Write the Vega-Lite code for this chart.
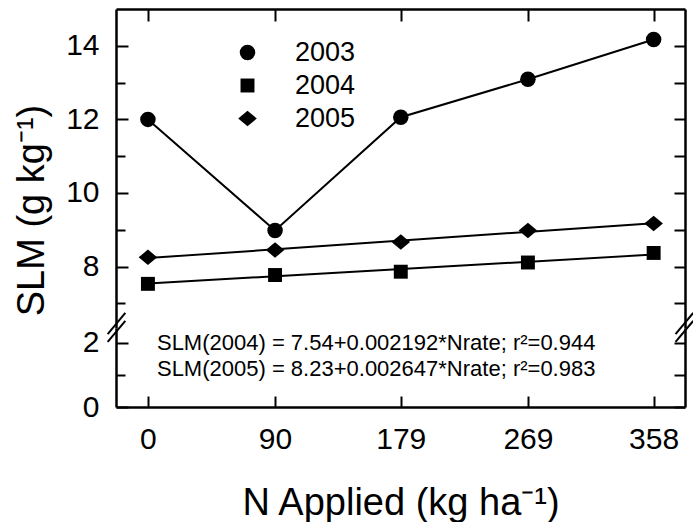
{
  "$schema": "https://vega.github.io/schema/vega-lite/v6.json",
  "padding": {"left": 13, "top": 8, "right": 5, "bottom": 5},
  "background": "white",
  "config": {
    "view": {"stroke": null},
    "font": "Liberation Sans",
    "axis": {"grid": false, "domainColor": "black", "domainWidth": 2.5, "tickColor": "black", "tickWidth": 2, "labelColor": "black", "titleColor": "black", "labelFont": "Liberation Sans", "titleFont": "Liberation Sans", "titleFontWeight": "normal", "labelFontSize": 30, "titleFontSize": 38}
  },
  "datasets": {
    "points": [
      {"nrate": 0, "slm": 12.0, "year": "2003"},
      {"nrate": 90, "slm": 8.98, "year": "2003"},
      {"nrate": 179, "slm": 12.06, "year": "2003"},
      {"nrate": 269, "slm": 13.09, "year": "2003"},
      {"nrate": 358, "slm": 14.17, "year": "2003"},
      {"nrate": 0, "slm": 7.53, "year": "2004"},
      {"nrate": 90, "slm": 7.77, "year": "2004"},
      {"nrate": 179, "slm": 7.86, "year": "2004"},
      {"nrate": 269, "slm": 8.11, "year": "2004"},
      {"nrate": 358, "slm": 8.37, "year": "2004"},
      {"nrate": 0, "slm": 8.25, "year": "2005"},
      {"nrate": 90, "slm": 8.45, "year": "2005"},
      {"nrate": 179, "slm": 8.67, "year": "2005"},
      {"nrate": 269, "slm": 8.98, "year": "2005"},
      {"nrate": 358, "slm": 9.17, "year": "2005"}
    ],
    "fit": [
      {"nrate": 0, "slm": 7.54, "year": "2004"},
      {"nrate": 358, "slm": 8.325, "year": "2004"},
      {"nrate": 0, "slm": 8.23, "year": "2005"},
      {"nrate": 358, "slm": 9.178, "year": "2005"}
    ],
    "equations": [
      {"nrate": 6.4, "slm": 1.97, "label": "SLM(2004) = 7.54+0.002192*Nrate; r²=0.944"},
      {"nrate": 6.4, "slm": 1.17, "label": "SLM(2005) = 8.23+0.002647*Nrate; r²=0.983"}
    ],
    "breaks": [
      {"side": "left", "x1": -28.5, "x2": -16, "y1": 2.26, "y2": 2.92},
      {"side": "left", "x1": -28.5, "x2": -16, "y1": 2.02, "y2": 2.67},
      {"side": "right", "x1": 373.5, "x2": 386, "y1": 2.26, "y2": 2.92},
      {"side": "right", "x1": 373.5, "x2": 386, "y1": 2.02, "y2": 2.67}
    ]
  },
  "vconcat": [
    {
      "width": 569,
      "height": 319,
      "layer": [
        {
          "data": {"name": "points"},
          "transform": [{"filter": "datum.year === '2003'"}],
          "mark": {"type": "line", "color": "black", "strokeWidth": 2},
          "encoding": {
            "x": {"field": "nrate", "type": "quantitative", "scale": {"domain": [-22.6, 380.2], "nice": false, "zero": false},
                  "axis": {"orient": "top", "values": [0, 90, 179, 269, 358], "labels": false, "tickSize": -12, "title": null, "domain": true}},
            "y": {"field": "slm", "type": "quantitative", "scale": {"domain": [6.33, 15.0], "nice": false, "zero": false},
                  "axis": {"orient": "left", "values": [8, 10, 12, 14], "tickSize": -12, "labelPadding": 29, "title": "SLM (g kg⁻¹)", "titleY": 201, "titlePadding": 14}}
          }
        },
        {
          "data": {"name": "fit"},
          "mark": {"type": "line", "color": "black", "strokeWidth": 2},
          "encoding": {
            "x": {"field": "nrate", "type": "quantitative"},
            "y": {"field": "slm", "type": "quantitative",
                  "axis": {"orient": "right", "values": [7, 8, 9, 10, 11, 12, 13, 14], "labels": false, "tickSize": -11, "title": null}},
            "detail": {"field": "year"}
          }
        },
        {
          "data": {"name": "points"},
          "mark": {"type": "point", "filled": true, "color": "black", "opacity": 1, "size": 240},
          "encoding": {
            "x": {"field": "nrate", "type": "quantitative"},
            "y": {"field": "slm", "type": "quantitative",
                  "axis": {"orient": "left", "values": [7, 9, 11, 13], "labels": false, "tickSize": -9, "domain": false, "title": null}},
            "shape": {"field": "year", "type": "nominal",
                      "scale": {"domain": ["2003", "2004", "2005"], "range": ["circle", "M-0.9,-0.9L0.9,-0.9L0.9,0.9L-0.9,0.9Z", "M-1.2,0L0,-1L1.2,0L0,1Z"]},
                      "legend": {"orient": "none", "legendX": 118, "legendY": 30, "title": null, "labelFontSize": 27, "labelFont": "Liberation Sans", "labelColor": "black", "symbolSize": 240, "symbolFillColor": "black", "symbolStrokeColor": "black", "labelOffset": 34, "rowPadding": 5}}
          }
        }
      ],
      "resolve": {"axis": {"y": "independent"}}
    },
    {
      "width": 569,
      "height": 79,
      "layer": [
        {
          "data": {"name": "equations"},
          "mark": {"type": "text", "align": "left", "baseline": "middle", "fontSize": 22, "font": "Liberation Sans", "color": "black"},
          "encoding": {
            "x": {"field": "nrate", "type": "quantitative", "scale": {"domain": [-22.6, 380.2], "nice": false, "zero": false},
                  "axis": {"orient": "bottom", "values": [0, 90, 179, 269, 358], "tickSize": -11, "labelPadding": 28, "title": "N Applied (kg ha⁻¹)", "titlePadding": 30}},
            "y": {"field": "slm", "type": "quantitative", "scale": {"domain": [0, 2.45], "nice": false, "zero": false},
                  "axis": {"orient": "left", "values": [0, 2], "tickSize": -12, "labelPadding": 29, "title": null}},
            "text": {"field": "label"}
          }
        },
        {
          "data": {"name": "breaks"},
          "transform": [{"filter": "datum.side === 'left'"}],
          "mark": {"type": "rule", "color": "black", "strokeWidth": 2},
          "encoding": {
            "x": {"field": "x1", "type": "quantitative"},
            "x2": {"field": "x2"},
            "y": {"field": "y1", "type": "quantitative",
                  "axis": {"orient": "right", "values": [0, 1, 2], "labels": false, "tickSize": -11, "title": null}},
            "y2": {"field": "y2"}
          }
        },
        {
          "data": {"name": "breaks"},
          "transform": [{"filter": "datum.side === 'right'"}],
          "mark": {"type": "rule", "color": "black", "strokeWidth": 2},
          "encoding": {
            "x": {"field": "x1", "type": "quantitative"},
            "x2": {"field": "x2"},
            "y": {"field": "y1", "type": "quantitative",
                  "axis": {"orient": "left", "values": [1], "labels": false, "tickSize": -9, "domain": false, "title": null}},
            "y2": {"field": "y2"}
          }
        }
      ],
      "resolve": {"axis": {"y": "independent"}}
    }
  ],
  "spacing": 0,
  "bounds": "flush",
  "resolve": {"scale": {"y": "independent"}}
}
